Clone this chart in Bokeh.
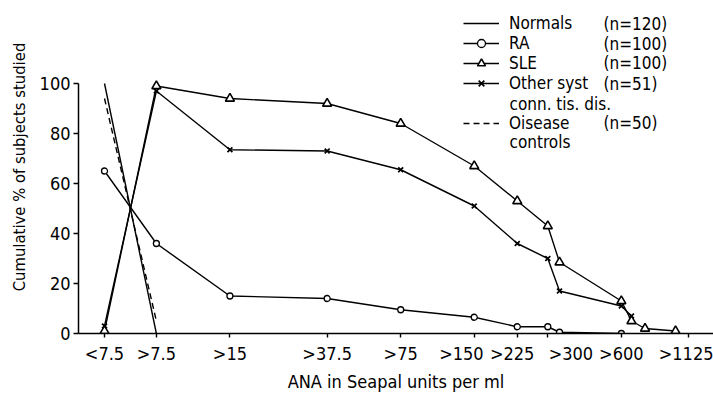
from bokeh.plotting import figure
from bokeh.models import Range1d, FixedTicker, Legend, LegendItem, Label
from bokeh.embed import file_html
from bokeh.resources import INLINE

# ---- data ----
x_ticks = [4.6, 7.5, 15, 37.5, 75, 150, 225, 300, 600, 1125]
x_tick_labels = ["<7.5", ">7.5", ">15", ">37.5", ">75", ">150", ">225", ">300", ">600", ">1125"]
y_ticks = [0, 20, 40, 60, 80, 100]

normals_x = [4.6, 7.5]
normals_y = [100, 0]

dc_x = [4.6, 7.5]
dc_y = [94, 5]

ra_x = [4.6, 7.5, 15, 37.5, 75, 150, 225, 300, 335, 600]
ra_y = [65, 36, 15, 14, 9.5, 6.5, 2.7, 2.7, 0.5, 0]

sle_x = [4.6, 7.5, 15, 37.5, 75, 150, 225, 300, 335, 600, 660, 750, 1000]
sle_y = [1, 99, 94, 92, 84, 67, 53, 43, 28.5, 13, 5, 2, 1]

oth_x = [4.6, 7.5, 15, 37.5, 75, 150, 225, 300, 335, 600, 660]
oth_y = [3, 97, 73.5, 73, 65.5, 51, 36, 30, 17, 11, 7]

legend_names = ["Normals", "RA", "SLE", "Other syst", "Oisease"]
legend_counts = ["(n=120)", "(n=100)", "(n=100)", "(n=51)", "(n=50)"]
legend_extra = ["", "", "", "conn. tis. dis.", "controls"]

FONT = "DejaVu Sans Condensed"
INK = "#000000"
NB = "\u00a0"

# the crowded labels are nudged apart, as in the original print
label_pad = {150: ("", NB * 5), 225: ("", NB * 2), 300: (NB * 9, "")}

p = figure(width=713, height=397, x_axis_type="log",
           x_range=Range1d(3.6, 1430), y_range=Range1d(0, 133.2),
           output_backend="svg", toolbar_location=None,
           min_border_left=78, min_border_right=0, min_border_top=0, min_border_bottom=64)
p.outline_line_color = None
p.grid.visible = False
p.background_fill_color = "white"
p.border_fill_color = "white"

# axes
overrides = {}
for t, l in zip(x_ticks, x_tick_labels):
    pre, post = label_pad.get(t, ("", ""))
    overrides[t] = pre + l + post
p.xaxis.ticker = FixedTicker(ticks=x_ticks, minor_ticks=[])
p.xaxis.major_label_overrides = overrides
p.yaxis.ticker = FixedTicker(ticks=y_ticks, minor_ticks=[])
p.yaxis.bounds = (0, 100)
for ax in (p.xaxis, p.yaxis):
    ax.axis_line_color = INK
    ax.axis_line_width = 1.5
    ax.major_tick_line_color = INK
    ax.major_tick_line_width = 1.4
    ax.minor_tick_line_color = None
    ax.major_label_text_font = FONT
    ax.major_label_text_font_size = "18px"
    ax.major_label_text_color = INK
    ax.axis_label_text_font = FONT
    ax.axis_label_text_font_style = "normal"
    ax.axis_label_text_color = INK
p.xaxis.major_tick_in = 0
p.xaxis.major_tick_out = 4
p.xaxis.major_label_standoff = 5
p.xaxis.axis_label = "ANA in Seapal units per ml"
p.xaxis.axis_label_text_font_size = "18px"
p.xaxis.axis_label_standoff = 4
p.yaxis.major_tick_in = 0
p.yaxis.major_tick_out = 5
p.yaxis.major_label_standoff = 3
p.yaxis.axis_label = "Cumulative % of subjects studied"
p.yaxis.axis_label_text_font_size = "16.5px"
p.yaxis.axis_label_standoff = 8

LW = 1.4
r_norm = p.line(normals_x, normals_y, line_color=INK, line_width=LW)
r_dc = p.line(dc_x, dc_y, line_color=INK, line_width=LW, line_dash="6 4")
r_ra = p.line(ra_x, ra_y, line_color=INK, line_width=LW)
m_ra = p.scatter(ra_x, ra_y, marker="circle", size=6, fill_color="white",
                 line_color=INK, line_width=1.3)
r_oth = p.line(oth_x, oth_y, line_color=INK, line_width=LW)
m_oth = p.scatter(oth_x, oth_y, marker="x", size=7, line_color=INK, line_width=1.7)
r_sle = p.line(sle_x, sle_y, line_color=INK, line_width=LW)
m_sle = p.scatter(sle_x, sle_y, marker="triangle", size=9, fill_color="white",
                  line_color=INK, line_width=1.6)

# legend rows (frame-relative screen positions; frame bottom is at y=0)
row_renderers = [[r_norm], [r_ra, m_ra], [r_sle, m_sle], [r_oth, m_oth], [r_dc]]
row_centers = [309.7, 289.7, 270.3, 249.7, 210.3]
extra_centers = [None, None, None, 229.7, 191.3]
for name, cnt, extra, rends, cy, ey in zip(legend_names, legend_counts, legend_extra,
                                            row_renderers, row_centers, extra_centers):
    leg = Legend(items=[LegendItem(label=name, renderers=rends)],
                 location=(385, cy - 10), padding=0, margin=0, spacing=0,
                 glyph_width=36, glyph_height=20, label_height=20, label_standoff=10,
                 border_line_alpha=0, background_fill_alpha=0,
                 label_text_font=FONT, label_text_font_size="17px",
                 label_text_color=INK)
    p.add_layout(leg)
    p.add_layout(Label(x=525, y=cy, x_units="screen", y_units="screen", text=cnt,
                       text_font=FONT, text_font_size="17px", text_color=INK,
                       text_baseline="middle", text_align="left"))
    if extra:
        p.add_layout(Label(x=431, y=ey, x_units="screen", y_units="screen", text=extra,
                           text_font=FONT, text_font_size="17px", text_color=INK,
                           text_baseline="middle", text_align="left"))

open("out.html", "w").write(file_html(p, INLINE))
